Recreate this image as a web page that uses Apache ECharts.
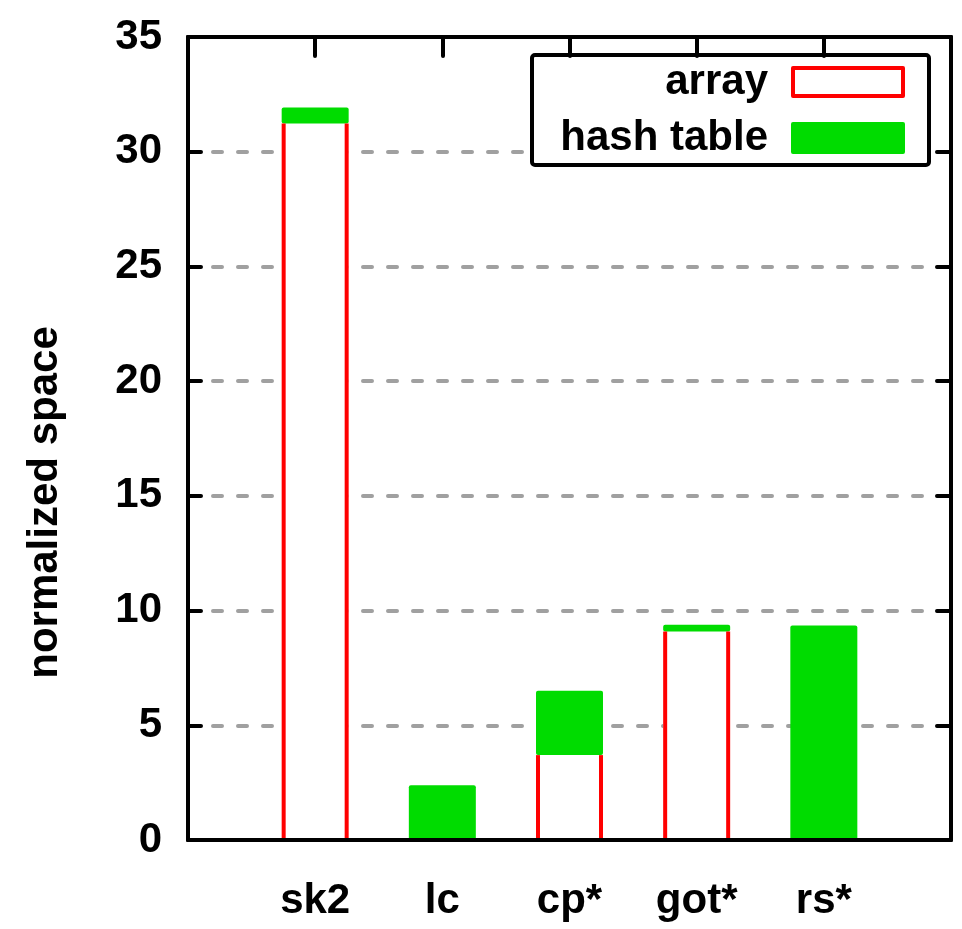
<!DOCTYPE html>
<html>
<head>
<meta charset="utf-8">
<title>normalized space</title>
<script src="https://cdn.jsdelivr.net/npm/echarts/dist/echarts.min.js"></script>
<style>
  html, body { margin: 0; padding: 0; background: #ffffff; }
  #chart { width: 962px; height: 929px; }
</style>
</head>
<body>
<div id="chart"></div>
<script>
// Benchmarks on the x axis
const categories = ['sk2', 'lc', 'cp*', 'got*', 'rs*'];
// Space taken by the array part of each structure
const arrayValues = [31.23, 0, 3.70, 9.09, 0];
// Space taken by the hash table part, stacked on top of the array part
const hashValues = [0.70, 2.39, 2.81, 0.29, 9.35];
// Y axis ticks
const yMin = 0, yMax = 35, yStep = 5;

const FONT = "'Liberation Sans', Arial, Helvetica, sans-serif";
const RED = '#ff0000';
const GREEN = '#00dc00';
const GRID_GREY = '#a0a0a0';
const BAR_W = 67;
const OUTLINE = 4;

// One empty slot on each side so the bars sit at 1..5 on a 0..6 range
const slots = [''].concat(categories, ['']);
const pad = arr => ['-'].concat(arr, ['-']);

const labelText = {
  fontFamily: FONT, fontWeight: 'bold', fontSize: 42, lineHeight: 50, color: '#000'
};
const frameLine = { show: true, onZero: false, lineStyle: { color: '#000', width: 4, cap: 'round' } };
const tickStyle = { color: '#000', width: 4, cap: 'round' };

// Red outline of the array bars: both sides, open at the top where the hash part sits
function renderArrayOutline(params, api) {
  const base = api.coord([api.value(0), 0]);
  const top = api.coord([api.value(0), api.value(1)]);
  const half = BAR_W / 2 - OUTLINE / 2;
  const style = { stroke: RED, lineWidth: OUTLINE, fill: null };
  return {
    type: 'group',
    children: [
      { type: 'line', shape: { x1: base[0] - half, y1: base[1], x2: base[0] - half, y2: top[1] }, style: style },
      { type: 'line', shape: { x1: base[0] + half, y1: base[1], x2: base[0] + half, y2: top[1] }, style: style },
      { type: 'line', shape: { x1: base[0] - half, y1: base[1], x2: base[0] + half, y2: base[1] }, style: style }
    ]
  };
}

const chart = echarts.init(document.getElementById('chart'), null, { renderer: 'canvas' });

chart.setOption({
  animation: false,
  backgroundColor: '#ffffff',
  grid: { left: 188, right: 11, top: 37, bottom: 89, containLabel: false, outerBoundsMode: 'none' },
  legend: {
    show: true,
    left: 532, top: 55,
    orient: 'vertical',
    align: 'right',
    padding: [2, 24, 2, 8],
    itemGap: 6,
    itemWidth: 110,
    itemHeight: 28,
    icon: 'rect',
    borderColor: '#000', borderWidth: 4, borderRadius: 3,
    backgroundColor: '#fff',
    selectedMode: false,
    textStyle: Object.assign({}, labelText, { width: 228, align: 'right', padding: [0, 20, 0, 0] }),
    data: [
      { name: 'array', itemStyle: { color: '#fff', borderColor: RED, borderWidth: 4, borderJoin: 'round' } },
      { name: 'hash table', itemStyle: { color: GREEN, borderColor: GREEN, borderWidth: 4, borderJoin: 'round' } }
    ]
  },
  xAxis: [
    {
      type: 'category', position: 'bottom', data: slots, boundaryGap: false,
      z: 5,
      axisLine: frameLine,
      axisTick: { show: false },
      splitLine: { show: false },
      axisLabel: Object.assign({}, labelText, { interval: 0, margin: 36 })
    },
    {
      type: 'category', position: 'top', data: slots, boundaryGap: false,
      z: 5,
      axisLine: frameLine,
      axisTick: { show: true, inside: true, interval: 0, length: 19, lineStyle: tickStyle },
      splitLine: { show: false },
      axisLabel: { show: false }
    }
  ],
  yAxis: [
    {
      type: 'value', position: 'left', min: yMin, max: yMax, interval: yStep,
      z: 5,
      name: 'normalized space',
      nameLocation: 'middle',
      nameRotate: 90,
      nameGap: 122,
      nameMoveOverlap: false,
      // the title sits a little below the middle of the axis
      nameTextStyle: Object.assign({}, labelText, { lineHeight: 42, padding: [0, 128, 0, 0] }),
      axisLine: frameLine,
      axisTick: { show: true, inside: true, length: 13, lineStyle: tickStyle },
      splitLine: { show: false },
      axisLabel: Object.assign({}, labelText, { margin: 26 })
    },
    {
      type: 'value', position: 'right', min: yMin, max: yMax, interval: yStep,
      z: 5,
      axisLine: frameLine,
      axisTick: { show: true, inside: true, length: 14, lineStyle: tickStyle },
      splitLine: { show: false },
      axisLabel: { show: false }
    },
    {
      // dashed grid lines, kept beneath the bars
      type: 'value', position: 'left', min: yMin, max: yMax, interval: yStep,
      z: 0,
      axisLine: { show: false },
      axisTick: { show: false },
      axisLabel: { show: false },
      splitLine: {
        show: true,
        lineStyle: { color: GRID_GREY, width: 4, type: [9, 16], cap: 'round' }
      }
    }
  ],
  series: [
    {
      name: 'array', type: 'bar', stack: 'space', xAxisIndex: 0, yAxisIndex: 0,
      barWidth: BAR_W, z: 2,
      itemStyle: { color: '#fff', borderWidth: 0 },
      emphasis: { disabled: true },
      data: pad(arrayValues)
    },
    {
      name: 'hash table', type: 'bar', stack: 'space', xAxisIndex: 0, yAxisIndex: 0,
      barWidth: BAR_W, z: 2,
      itemStyle: { color: GREEN, borderWidth: 0, borderRadius: 2 },
      emphasis: { disabled: true },
      data: pad(hashValues)
    },
    {
      type: 'custom', xAxisIndex: 0, yAxisIndex: 0, z: 3, silent: true,
      renderItem: renderArrayOutline,
      data: arrayValues.map((v, i) => [i + 1, v]).filter(d => d[1] > 0)
    }
  ]
});
</script>
</body>
</html>
